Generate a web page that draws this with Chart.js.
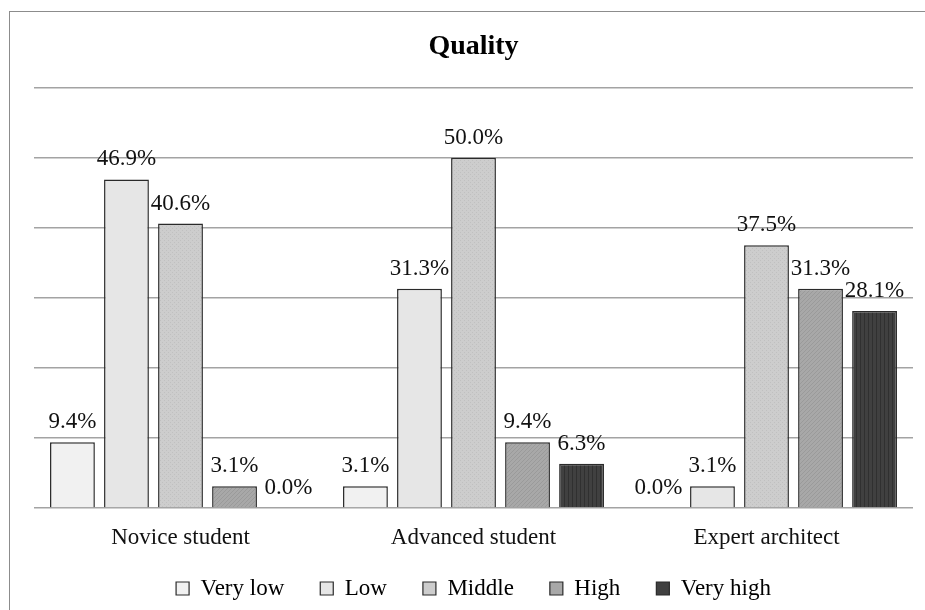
<!DOCTYPE html>
<html>
<head>
<meta charset="utf-8">
<script src="https://cdn.jsdelivr.net/npm/chart.js@4/dist/chart.umd.min.js"></script>
<style>
    body { margin: 0; background: #fff; }
    .frame {
        position: absolute; left: 9px; top: 11px; width: 940px; height: 620px;
        border-left: 1.5px solid #8c8c8c; border-top: 1.5px solid #8c8c8c;
    }
    .wrap { position: absolute; left: 0; top: 0; width: 925px; height: 610px; }
</style>
</head>
<body>
<div class="frame"></div>
<div class="wrap"><canvas id="qualityChart"></canvas></div>
<script>
const categories = ['Novice student', 'Advanced student', 'Expert architect'];
const levels = ['Very low', 'Low', 'Middle', 'High', 'Very high'];
const veryLow = [9.4, 3.1, 0.0];
const low = [46.9, 31.3, 3.1];
const middle = [40.6, 50.0, 37.5];
const high = [3.1, 9.4, 31.3];
const veryHigh = [0.0, 6.3, 28.1];
const yTicks = [0, 10, 20, 30, 40, 50, 60];

const fills = ['#f1f1f1', '#e6e6e6', '#cdcdcd', '#a8a8a8', '#404040'];
const serif = '"Liberation Serif", "Times New Roman", serif';

// small tiled textures like the printed bars (dots, diagonal hatch, vertical stripes)
function makePattern(base, kind) {
    const c = document.createElement('canvas');
    c.width = 4; c.height = 4;
    const g = c.getContext('2d');
    g.fillStyle = base;
    g.fillRect(0, 0, 4, 4);
    if (kind === 'dots') {
        g.fillStyle = 'rgba(0,0,0,0.06)';
        g.fillRect(0, 0, 1, 1);
        g.fillRect(2, 2, 1, 1);
    } else if (kind === 'diag') {
        g.fillStyle = 'rgba(0,0,0,0.08)';
        for (let i = 0; i < 4; i++) g.fillRect(i, 3 - i, 1, 1);
    } else if (kind === 'vert') {
        g.fillStyle = 'rgba(0,0,0,0.25)';
        g.fillRect(0, 0, 1, 4);
    }
    return g.createPattern(c, 'repeat');
}

document.addEventListener('DOMContentLoaded', () => {

    const barFills = [
        fills[0],
        fills[1],
        makePattern(fills[2], 'dots'),
        makePattern(fills[3], 'diag'),
        makePattern(fills[4], 'vert')
    ];

    // value labels above each bar
    const barLabels = {
        id: 'barLabels',
        afterLayout(chart) {
            // let the category labels run past the (short) axis box without being clipped
            const x = chart.scales.x;
            x.bottom = x.top + 50;
            x.height = 50;
        },
        afterDatasetsDraw(chart) {
            const ctx = chart.ctx;
            ctx.save();
            ctx.font = '23px ' + serif;
            ctx.fillStyle = '#111';
            ctx.textAlign = 'center';
            ctx.textBaseline = 'alphabetic';
            chart.data.datasets.forEach((ds, i) => {
                chart.getDatasetMeta(i).data.forEach((bar, j) => {
                    ctx.fillText(ds.data[j].toFixed(1) + '%', bar.x, bar.y - 14);
                });
            });
            ctx.restore();
        }
    };

    const series = [veryLow, low, middle, high, veryHigh];

    new Chart(document.getElementById('qualityChart'), {
        type: 'bar',
        data: {
            labels: categories,
            datasets: series.map((values, i) => ({
                label: levels[i],
                data: values,
                backgroundColor: barFills[i],
                borderColor: '#2a2a2a',
                borderWidth: 1.5,
                categoryPercentage: 0.922,
                barPercentage: 0.83
            }))
        },
        options: {
            responsive: true,
            maintainAspectRatio: false,
            animation: false,
            layout: { padding: { left: 34, right: 12, top: 0, bottom: 0 } },
            scales: {
                x: {
                    grid: { display: false, drawTicks: false },
                    border: { display: false },
                    ticks: { color: '#111', padding: 16, font: { family: serif, size: 23 } },
                    afterFit: axis => { axis.height = 33; }
                },
                y: {
                    min: yTicks[0],
                    max: yTicks[yTicks.length - 1],
                    afterBuildTicks: axis => { axis.ticks = yTicks.map(v => ({ value: v })); },
                    ticks: { display: false },
                    grid: { color: '#a3a3a3', lineWidth: 1.5, drawTicks: false },
                    border: { display: false }
                }
            },
            plugins: {
                title: {
                    display: true,
                    text: 'Quality',
                    color: '#000',
                    font: { family: serif, size: 28, weight: 'bold' },
                    padding: { top: 30, bottom: 24 }
                },
                legend: {
                    position: 'bottom',
                    labels: {
                        color: '#111',
                        font: { family: serif, size: 23 },
                        boxWidth: 13,
                        boxHeight: 13,
                        padding: 36,
                        generateLabels: chart => chart.data.datasets.map((ds, i) => ({
                            text: ds.label,
                            fillStyle: fills[i],
                            strokeStyle: '#2a2a2a',
                            lineWidth: 1.2,
                            datasetIndex: i
                        }))
                    }
                },
                tooltip: { enabled: false }
            }
        },
        plugins: [barLabels]
    });
});
</script>
</body>
</html>
